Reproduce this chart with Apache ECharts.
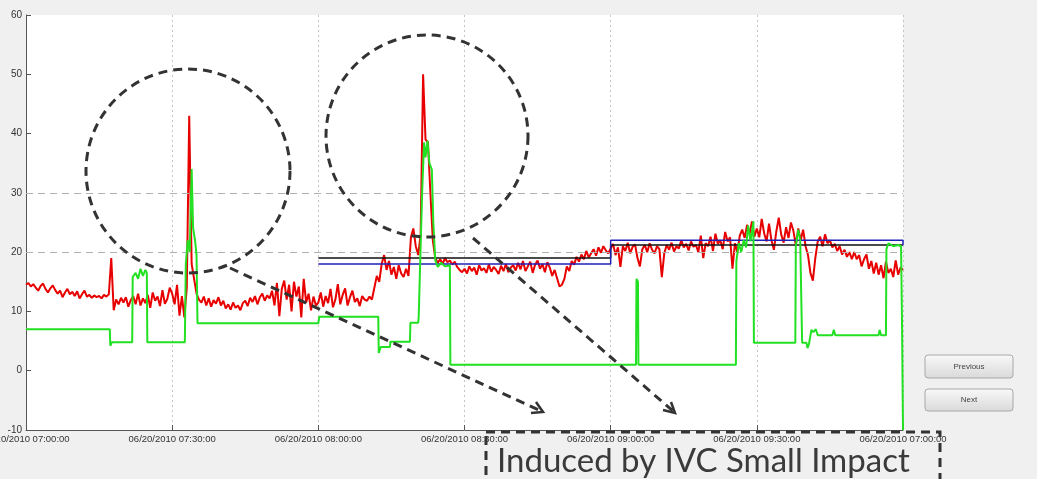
<!DOCTYPE html>
<html>
<head>
<meta charset="utf-8">
<script src="https://cdn.jsdelivr.net/npm/echarts@6/dist/echarts.min.js"></script>
<style>
html,body{margin:0;padding:0;background:#f0f0f0;}
#chart{width:1037px;height:479px;}
</style>
</head>
<body>
<div id="chart"></div>
<script>
// x axis: minutes since 06/20/2010 07:00:00
const xTickLabels = ["06/20/2010 07:00:00","06/20/2010 07:30:00","06/20/2010 08:00:00","06/20/2010 08:30:00","06/20/2010 09:00:00","06/20/2010 09:30:00","06/20/2010 07:00:00"];
const yTickLabels = ["-10","0","10","20","30","40","50","60"];

// red series, sampled every half minute from 07:00 to 10:00
const redStep = 0.5;
const redValues = [
14.5,14.8,14.2,14.6,14.0,13.5,14.3,14.7,13.8,13.2,13.9,14.4,13.6,13.0,13.5,12.4,13.2,13.8,12.9,13.3,
12.6,13.4,12.2,12.9,13.5,12.5,12.8,12.3,12.7,12.4,12.6,12.2,12.8,12.5,12.9,19.0,10.2,12.0,11.2,12.3,
11.5,12.4,10.8,11.9,12.6,11.2,13.0,11.0,12.2,11.4,12.8,10.6,13.2,11.8,12.5,10.9,13.6,11.3,12.1,14.0,
13.0,11.2,14.5,9.3,12.6,9.0,14.0,43.0,18.0,15.5,13.0,12.0,11.5,12.5,11.0,12.2,10.8,11.9,11.3,12.4,
11.0,11.8,10.5,11.2,10.3,11.5,10.6,11.0,10.2,11.4,11.8,10.9,12.3,11.6,12.6,11.2,12.4,13.0,11.8,12.7,
12.2,13.5,11.0,14.8,9.2,13.8,15.2,12.0,14.5,10.0,15.0,12.5,14.2,9.0,15.5,11.5,13.0,10.2,12.5,11.0,
11.5,13.2,10.8,12.6,11.4,13.8,10.7,12.0,14.6,11.2,12.8,13.9,11.0,12.4,13.5,11.6,12.2,10.9,12.6,12.0,
11.8,12.5,12.0,14.0,16.0,15.0,18.0,19.5,17.0,18.5,16.2,17.5,15.5,17.8,16.4,15.8,17.2,16.0,22.5,24.0,
21.0,19.5,23.0,50.0,39.0,38.5,30.0,22.0,19.0,18.2,18.8,18.0,19.0,18.3,18.6,17.9,18.4,17.5,17.0,16.6,
17.2,16.4,17.6,16.8,17.4,16.2,17.8,16.9,17.3,16.5,17.9,16.7,17.5,17.0,16.3,17.7,16.8,18.0,16.6,17.4,
17.8,16.9,18.2,17.1,18.5,16.8,17.6,18.4,16.5,17.9,18.6,17.2,18.0,16.6,18.3,17.4,16.0,17.0,15.6,14.2,
14.5,15.5,17.6,16.8,18.5,17.9,19.2,18.4,19.6,18.8,20.2,19.1,19.8,20.5,19.4,20.8,19.9,21.0,20.3,19.8,
20.6,21.4,19.5,20.8,17.5,21.0,20.2,21.6,19.8,20.9,21.3,19.0,17.6,20.5,21.2,20.0,21.5,20.4,19.8,21.0,
20.5,15.8,19.8,21.2,20.4,21.6,20.1,21.0,20.6,22.0,20.8,21.4,20.3,21.8,20.9,21.2,20.0,22.8,19.0,21.5,
21.0,22.6,20.2,23.1,21.4,22.0,20.5,23.4,21.8,22.5,17.2,21.5,20.0,22.8,23.8,22.4,24.6,23.0,25.2,22.6,
24.0,22.5,25.6,23.2,21.8,24.8,22.0,20.4,23.5,25.8,23.0,21.6,24.2,22.4,25.0,23.6,21.2,24.0,22.0,23.8,
21.0,19.5,16.5,15.2,19.0,21.8,22.6,21.0,23.0,21.5,22.0,20.8,21.4,20.2,21.0,19.6,20.4,19.2,20.0,18.8,
20.0,18.8,19.5,17.6,18.8,19.6,17.2,18.5,16.4,18.2,16.2,17.8,15.6,18.4,16.5,17.2,15.8,18.6,16.2,17.4,
17.0
];

// green series (corner points of the step trace)
const greenTimes = [0,17.2,17.3,17.6,21.8,21.9,22.5,23,23.5,24,24.5,24.8,24.9,32.6,32.8,33.2,33.6,34.0,34.3,34.7,35.0,35.2,60,60.2,72.3,72.4,72.8,74.7,74.8,78.8,78.9,80.5,80.6,81.0,81.3,81.7,82.0,82.4,82.8,83.3,83.6,84.0,84.5,85.2,86,87.0,87.1,125.2,125.3,125.6,125.7,145.7,145.8,146.3,146.8,147.3,147.8,148.2,148.7,149.3,149.4,157.9,158.0,158.5,158.9,159.3,160.2,160.4,160.7,161.2,161.6,162.1,162.5,165.5,165.8,166.1,175,175.2,175.5,176.5,176.6,177,178,179,179.6,179.8,180];
const greenValues = [7,7,4.2,4.8,4.8,15.8,16.5,15.5,17.2,16.0,17.0,16.5,4.8,4.8,18,22,20,34,24,22,19.5,8.0,8.0,9.1,9.1,3.0,4.0,4.0,4.9,4.9,8.1,8.1,9.1,9.1,30,38.5,36,38.8,35,33.9,25,18.7,17.5,18.2,17.6,17.8,1.0,1.0,15.5,15.0,1.0,1.0,18.5,21.5,20,22,20.8,24.5,21.8,25.2,4.7,4.7,21.0,23.8,22.0,4.7,4.7,3.8,4.5,6.9,6.5,7.0,6.0,6.0,6.9,6.0,6.0,6.9,6.0,6.0,20.5,21.5,21.0,21.2,21.0,8,-10];

// reference levels
const blueTimes = [60,120,120,180,180];
const blueValues = [18,18,22,22,21.2];
const blackTimes = [60,120,120,180];
const blackValues = [19,19,21.2,21.2];
const thresholdLevels = [20,30];

const zip = (xs, ys) => xs.map((x, i) => [x, ys[i]]);
const redData = redValues.map((v, i) => [i * redStep, v]);

const chart = echarts.init(document.getElementById('chart'));
const dash = [9, 6];
const dashStroke = {fill: 'none', stroke: '#333', lineWidth: 3, lineDash: dash};

function button(x, y, w, h, label) {
  return {
    type: 'group', z: 100, children: [
      {type: 'rect', shape: {x: x, y: y, width: w, height: h, r: 3},
       style: {fill: new echarts.graphic.LinearGradient(0,0,0,1,[{offset:0,color:'#f9f9f9'},{offset:1,color:'#d9d9d9'}]), stroke: '#a8a8a8', lineWidth: 1}},
      {type: 'text', style: {x: x + w/2, y: y + h/2, text: label, fill: '#444', font: '8px "Liberation Sans"', textAlign: 'center', textVerticalAlign: 'middle'}}
    ]
  };
}

chart.setOption({
  backgroundColor: '#f0f0f0',
  animation: false,
  grid: {left: 26, top: 15, width: 877, height: 415, show: true, backgroundColor: '#ffffff', borderWidth: 0, containLabel: false, outerBoundsMode: 'none'},
  xAxis: {
    type: 'value', min: 0, max: 180, interval: 30,
    axisLine: {onZero: false, lineStyle: {color: '#555', width: 1}},
    axisTick: {inside: true, length: 5, lineStyle: {color: '#555'}},
    axisLabel: {formatter: v => xTickLabels[Math.round(v / 30)], fontSize: 9.5, color: '#333', fontFamily: 'Liberation Sans', margin: 4, showMinLabel: true, showMaxLabel: true},
    splitLine: {show: true, lineStyle: {color: '#c4c4c4', type: [2, 3], width: 1}}
  },
  yAxis: {
    type: 'value', min: -10, max: 60, interval: 10,
    axisLine: {show: true, onZero: false, lineStyle: {color: '#555', width: 1}},
    axisTick: {show: true, inside: true, length: 5, lineStyle: {color: '#555'}},
    axisLabel: {formatter: v => yTickLabels[Math.round((v + 10) / 10)], fontSize: 10, color: '#333', fontFamily: 'Liberation Sans', margin: 4},
    splitLine: {show: false}
  },
  series: [
    {type: 'line', data: redData, showSymbol: false, lineStyle: {color: '#e80000', width: 2}, z: 3,
     markLine: {silent: true, symbol: 'none', label: {show: false}, lineStyle: {color: '#b0b0b0', type: [7, 5], width: 1},
       data: thresholdLevels.map(v => ({yAxis: v}))}},
    {type: 'line', data: zip(blackTimes, blackValues), showSymbol: false, lineStyle: {color: '#111', width: 1.5}, z: 4},
    {type: 'line', data: zip(blueTimes, blueValues), showSymbol: false, lineStyle: {color: '#2020b8', width: 1.5}, z: 4},
    {type: 'line', data: zip(greenTimes, greenValues), showSymbol: false, lineStyle: {color: '#22e022', width: 2}, z: 5}
  ],
  graphic: [
    {type: 'circle', z: 100, shape: {cx: 188, cy: 171, r: 102}, style: dashStroke},
    {type: 'circle', z: 100, shape: {cx: 427, cy: 136, r: 101}, style: dashStroke},
    {type: 'line', z: 100, shape: {x1: 230, y1: 268, x2: 541, y2: 411}, style: {stroke: '#333', lineWidth: 3, lineDash: dash}},
    {type: 'polyline', z: 100, shape: {points: [[531, 413], [543, 412], [536, 402]]}, style: {fill: 'none', stroke: '#333', lineWidth: 2.5}},
    {type: 'line', z: 100, shape: {x1: 473, y1: 238, x2: 673, y2: 411}, style: {stroke: '#333', lineWidth: 3, lineDash: dash}},
    {type: 'polyline', z: 100, shape: {points: [[663, 410], [675, 413], [671, 402]]}, style: {fill: 'none', stroke: '#333', lineWidth: 2.5}},
    {type: 'rect', z: 100, shape: {x: 486, y: 432, width: 454, height: 70}, style: dashStroke},
    {type: 'text', z: 100, style: {x: 497, y: 461, text: 'Induced by IVC Small Impact', fill: '#3a3a3a', font: '33px Lato', textVerticalAlign: 'middle'}},
    button(925, 355, 88, 23, 'Previous'),
    button(925, 389, 88, 22, 'Next')
  ]
});
</script>
</body>
</html>
